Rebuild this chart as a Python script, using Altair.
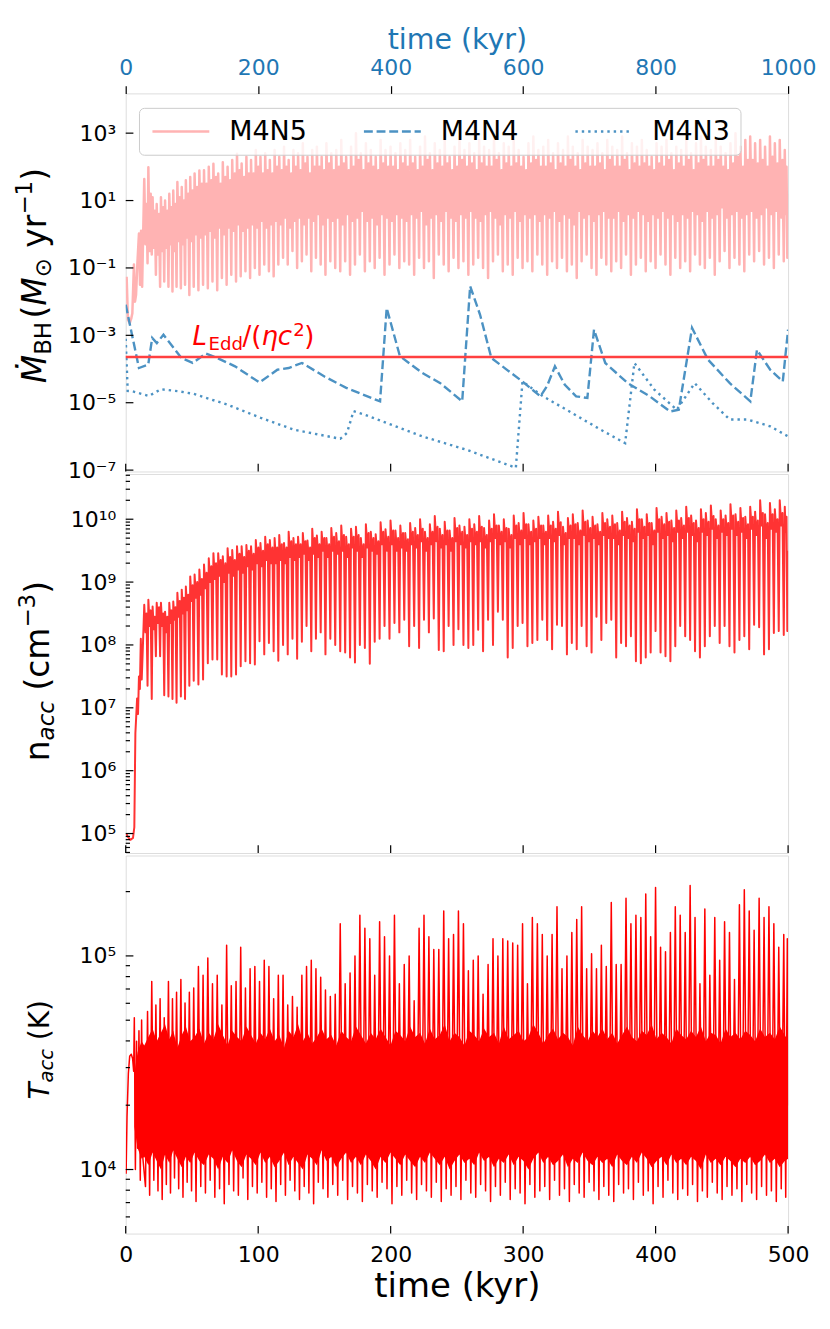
import altair as alt
import numpy as np
import pandas as pd

FONT = "DejaVu Sans"

# ---------------- data ----------------
# start times (kyr) of the accretion cycles of run M4N5
CYCLE_T = [14.0, 17.1, 20.3, 23.4, 26.6, 29.7, 32.9, 35.9, 39.0, 42.3, 45.4, 48.7,
           52.0, 55.6, 59.1, 62.7, 66.2, 69.8, 73.3, 76.9, 80.4, 84.0, 87.5, 91.1, 94.6, 98.2,
           101.7, 105.3, 108.8, 112.4, 115.9, 119.5, 123.0, 126.6, 130.1, 133.7, 137.2, 140.8, 144.3, 147.9,
           151.5, 155.2, 158.9, 162.7, 166.4, 170.1, 173.8, 177.5, 181.3, 185.0,
           188.7, 192.4, 196.1, 199.9, 203.6, 207.3, 211.0, 214.7, 218.5, 222.2,
           225.9, 229.6, 233.3, 237.1, 240.8, 244.5, 248.2, 251.9, 255.7, 259.4,
           263.1, 266.8, 270.5, 274.3, 278.0, 281.7, 285.4, 289.1, 292.9, 296.6,
           300.3, 304.0, 307.7, 311.5, 315.2, 318.9, 322.6, 326.3, 330.1, 333.8,
           337.5, 341.2, 344.9, 348.7, 352.4, 356.1, 359.8, 363.5, 367.3, 371.0,
           374.7, 378.4, 382.1, 385.9, 389.6, 393.3, 397.0, 400.7, 404.5, 408.2,
           411.9, 415.6, 419.3, 423.1, 426.8, 430.5, 434.2, 437.9, 441.7, 445.4,
           449.1, 452.8, 456.5, 460.3, 464.0, 467.7, 471.4, 475.1, 478.9, 482.6,
           486.3, 490.0, 493.7, 497.5]

# --- M4N5 accretion rate, log10(Msun/yr) ---
MDOT_EARLY_T = [0.7, 1.7, 3.0, 4.2, 5.0, 6.2, 7.0, 7.8, 8.8, 10.0, 10.8, 11.6, 12.4]
MDOT_EARLY_LOG = [-1.26, -2.54, -2.64, -2.5, -2.35, -0.9, -2.0, -1.8, -0.87, 0.02, -1.5, 0.1, -1.56]
MDOT_END = [500.0, 1.2]
MDOT_PK = [1.64, 1.99, 1.1, 0.9, 1.1, 1.0, 1.2, 1.3, 1.55, 1.4, 1.6, 1.7, 1.8, 1.89,
           1.9, 2.0, 2.09, 1.8, 2.14, 2.0, 2.2, 2.39, 2.1, 2.3, 2.2, 2.5, 2.3, 2.4, 2.2, 2.5,
           2.3, 2.6, 2.2, 2.5, 2.4, 2.7, 2.3, 2.5, 2.6, 2.3, 2.7, 2.4,
           2.5, 2.8, 2.3, 2.6, 3.0, 2.4, 2.7, 2.5, 2.3, 2.8, 2.5, 2.6, 2.4, 2.7,
           2.5, 2.8, 2.3, 2.6, 2.9, 2.4, 2.7, 2.5, 2.8, 2.3, 2.6, 2.9, 2.5, 2.7,
           2.4, 2.8, 2.6, 2.5, 2.9, 2.4, 2.7, 2.6, 2.8, 2.5, 2.3, 2.7, 2.9, 2.5,
           2.6, 2.8, 2.4, 2.7, 2.5, 2.9, 2.6, 2.4, 2.8, 2.6, 2.5, 2.7, 2.4, 2.8,
           2.6, 2.5, 2.9, 2.4, 2.7, 2.6, 2.8, 2.5, 2.3, 2.7, 2.6, 2.8, 2.4, 2.6,
           2.5, 2.8, 2.4, 2.7, 2.9, 2.6, 2.5, 2.8, 2.6, 2.4, 2.7, 3.0, 2.6, 2.8,
           2.9, 2.7, 2.8, 2.6, 2.9, 2.7, 2.8, 2.5]
MDOT_MD = [-0.3, -0.5, -0.4, -0.6, -0.5, -0.4, -0.3, -0.5, -0.2, -0.3, -0.1, -0.2, 0.0, -0.1,
           0.0, 0.1, -0.1, 0.2, 0.0, 0.2, 0.1, 0.3, 0.1, 0.2, 0.3, 0.2, 0.4, 0.2, 0.3, 0.4,
           0.3, 0.5, 0.2, 0.4, 0.5, 0.3, 0.5, 0.4, 0.6, 0.3, 0.5, 0.4,
           0.5, 0.3, 0.6, 0.4, 0.5, 0.7, 0.4, 0.5, 0.3, 0.6, 0.5, 0.4, 0.6, 0.5,
           0.4, 0.6, 0.5, 0.7, 0.3, 0.5, 0.6, 0.4, 0.7, 0.5, 0.4, 0.6, 0.5, 0.7,
           0.5, 0.4, 0.6, 0.7, 0.5, 0.3, 0.6, 0.5, 0.7, 0.4, 0.6, 0.5, 0.6, 0.4,
           0.6, 0.5, 0.7, 0.4, 0.6, 0.5, 0.3, 0.7, 0.5, 0.6, 0.4, 0.6, 0.7, 0.5,
           0.5, 0.7, 0.4, 0.6, 0.5, 0.7, 0.6, 0.4, 0.6, 0.5, 0.7, 0.5, 0.6, 0.4,
           0.6, 0.5, 0.7, 0.6, 0.4, 0.7, 0.5, 0.6, 0.8, 0.5, 0.6, 0.7, 0.5, 0.6,
           0.7, 0.5, 0.6, 0.8, 0.6, 0.7, 0.5, 0.6]
MDOT_PK2 = [0.9, 1.2, 0.7, 0.6, 0.8, 0.7, 0.8, 0.9, 1.1, 1.0, 1.2, 1.3, 1.4, 1.5,
            1.5, 1.6, 1.7, 1.5, 1.7, 1.6, 1.8, 1.9, 1.7, 1.8, 1.8, 2.0, 1.8, 1.9, 1.8, 2.0,
            1.9, 2.0, 1.8, 2.0, 1.9, 2.1, 1.8, 2.0, 2.0, 1.9, 2.1, 1.9,
            2.0, 2.1, 1.9, 2.0, 2.2, 1.9, 2.1, 2.0, 1.9, 2.1, 2.0, 2.0, 1.9, 2.1,
            2.0, 2.1, 1.9, 2.0, 2.2, 1.9, 2.1, 2.0, 2.1, 1.9, 2.0, 2.2, 2.0, 2.1,
            1.9, 2.1, 2.0, 2.0, 2.2, 1.9, 2.1, 2.0, 2.1, 2.0, 1.9, 2.1, 2.2, 2.0,
            2.0, 2.1, 1.9, 2.1, 2.0, 2.2, 2.0, 1.9, 2.1, 2.0, 2.0, 2.1, 1.9, 2.2,
            2.0, 2.0, 2.2, 1.9, 2.1, 2.0, 2.1, 2.0, 1.9, 2.1, 2.0, 2.2, 1.9, 2.1,
            2.0, 2.2, 1.9, 2.1, 2.2, 2.0, 2.0, 2.2, 2.0, 1.9, 2.1, 2.3, 2.0, 2.2,
            2.2, 2.1, 2.2, 2.0, 2.3, 2.1, 2.2, 2.0]
MDOT_LOW = [-0.86, -0.6, -1.2, -1.56, -1.4, -1.56, -1.7, -1.56, -1.6, -1.5, -1.8, -1.56, -1.66, -1.5,
            -1.6, -1.4, -1.66, -1.3, -1.5, -1.2, -1.4, -1.25, -1.1, -1.3, -1.0, -1.2, -0.9, -1.1, -1.25, -0.9,
            -0.7, -0.9, -0.5, -1.0, -0.8, -0.6, -1.1, -0.7, -0.9, -1.2, -0.8, -1.0,
            -1.1, -0.8, -1.2, -0.9, -0.6, -1.1, -0.8, -1.0, -0.7, -1.2, -0.9, -0.6, -1.0, -0.8,
            -0.9, -1.2, -0.7, -1.0, -0.8, -1.3, -0.6, -0.9, -1.1, -0.7, -1.0, -0.8, -1.2, -0.9,
            -0.7, -1.0, -1.3, -0.8, -0.6, -1.1, -0.9, -1.2, -0.7, -1.0, -0.8, -1.1, -0.6, -0.9,
            -1.2, -0.8, -1.0, -0.7, -1.1, -0.9, -1.3, -0.8, -0.6, -1.0, -1.2, -0.7, -0.9, -1.1,
            -0.8, -1.0, -0.6, -1.2, -0.9, -0.7, -1.1, -0.8, -1.0, -0.6, -0.9, -1.2, -0.7, -1.0,
            -0.8, -1.1, -0.6, -0.9, -1.0, -0.7, -1.2, -0.8, -0.5, -1.0, -0.7, -0.9, -1.1, -0.6,
            -0.8, -0.5, -0.9, -0.7, -1.0, -0.6, -0.8, -0.7]

# --- M4N4 / M4N3 accretion rates (time on the top axis, kyr) ---
M4N4_T = [0, 20, 34, 40, 47, 57, 84, 101, 121, 138, 165, 202, 229, 246, 266, 300, 333, 384, 394, 414,
          448, 475, 508, 520, 535, 552, 582, 599, 626, 636, 648, 663, 680, 697, 707, 724, 758, 791, 822, 835,
          855, 879, 912, 943, 953, 973, 992, 1000]
M4N4_LOG = [-2.09, -3.97, -3.87, -3.08, -3.23, -2.98, -3.67, -3.82, -3.54, -3.67,
            -3.92, -4.40, -4.02, -3.97, -3.82, -4.22, -4.56, -4.96, -2.19, -3.62,
            -4.12, -4.42, -4.96, -1.54, -2.39, -3.67, -4.12, -4.37, -4.81, -4.51,
            -3.92, -4.47, -4.81, -4.86, -2.83, -3.82, -4.42, -4.81, -5.26, -5.21,
            -2.78, -3.72, -4.42, -4.96, -3.43, -4.02, -4.37, -2.83]
M4N3_T = [0, 3, 10, 35, 53, 80, 103, 154, 204, 254, 324, 334, 344, 360, 394, 448, 515, 589, 599, 630,
          670, 717, 754, 768, 798, 832, 859, 886, 912, 939, 973, 1000]
M4N3_LOG = [-3.1, -4.65, -4.66, -4.80, -4.60, -4.66, -4.74, -5.06, -5.45, -5.80, -6.07, -5.90, -5.25, -5.35,
            -5.60, -6.00, -6.40, -6.93, -4.37, -4.81, -5.26, -5.80, -6.20, -3.82, -4.61, -5.21, -4.42, -5.01,
            -5.50, -5.50, -5.70, -6.0]
EDD_RATE = 2.26e-4

# --- accretion density, log10(cm^-3) ---
NACC_EARLY_T = [0.5, 1.5, 3.5, 5.5, 6.5, 7.3, 7.9, 8.6, 9.3, 10.0, 10.7, 11.4, 12.1, 13.0]
NACC_EARLY_LOG = [5.0, 4.95, 4.9, 4.93, 5.1, 6.6, 6.85, 7.15, 6.9, 7.5, 7.3, 8.1, 7.45, 8.0]
NACC_END = [500.0, 9.5]
NACC_PK = [8.64, 8.72, 8.61, 8.67, 8.67, 8.53, 8.67, 8.69, 8.83, 8.88, 8.93, 9.09, 9.12, 9.20,
           9.28, 9.38, 9.46, 9.46, 9.41, 9.54, 9.51, 9.57, 9.57, 9.59, 9.57, 9.67, 9.62, 9.72, 9.67, 9.70,
           9.75, 9.62, 9.80, 9.70, 9.72, 9.78, 9.66, 9.85, 9.74, 9.80, 9.70, 9.86,
           9.78, 9.90, 9.72, 9.85, 9.88, 9.70, 9.92, 9.80, 9.76, 9.95, 9.84, 9.98, 9.82, 9.90,
           9.78, 9.94, 9.86, 10.0, 9.80, 9.92, 10.05, 9.85, 9.96, 9.82, 10.02, 9.90, 9.88, 10.0,
           9.92, 10.05, 9.86, 9.98, 10.08, 9.90, 10.0, 9.85, 10.06, 9.94, 10.1, 9.92, 9.98, 10.04,
           9.90, 10.06, 9.96, 10.12, 9.88, 10.02, 10.08, 9.94, 10.14, 9.98, 10.04, 9.92, 10.1, 10.0,
           10.06, 9.94, 10.12, 10.02, 9.96, 10.16, 10.0, 10.08, 9.94, 10.18, 10.04, 10.1, 9.98, 10.14,
           10.02, 10.2, 10.06, 9.98, 10.16, 10.1, 10.22, 10.0, 10.14, 10.06, 10.24, 10.08, 10.18, 10.04,
           10.2, 10.12, 10.3, 10.08, 10.26, 10.16, 10.3, 10.2]
NACC_MD = [8.2, 8.3, 8.25, 8.35, 8.3, 8.2, 8.35, 8.4, 8.45, 8.5, 8.55, 8.7, 8.75, 8.8,
           8.9, 9.0, 9.05, 9.1, 9.0, 9.15, 9.1, 9.2, 9.15, 9.25, 9.2, 9.3, 9.25, 9.35, 9.3, 9.3,
           9.35, 9.3, 9.4, 9.35, 9.4, 9.45, 9.35, 9.45, 9.4, 9.5, 9.4, 9.5,
           9.45, 9.5, 9.4, 9.55, 9.5, 9.4, 9.55, 9.5, 9.45, 9.6, 9.5, 9.6, 9.5, 9.55,
           9.5, 9.6, 9.55, 9.65, 9.5, 9.6, 9.65, 9.55, 9.6, 9.5, 9.65, 9.6, 9.55, 9.65,
           9.6, 9.65, 9.55, 9.65, 9.7, 9.6, 9.65, 9.55, 9.7, 9.6, 9.7, 9.6, 9.65, 9.7,
           9.6, 9.7, 9.65, 9.75, 9.6, 9.7, 9.7, 9.6, 9.75, 9.65, 9.7, 9.6, 9.75, 9.7,
           9.7, 9.6, 9.75, 9.7, 9.65, 9.8, 9.7, 9.75, 9.6, 9.8, 9.7, 9.75, 9.65, 9.8,
           9.7, 9.8, 9.75, 9.65, 9.8, 9.75, 9.85, 9.7, 9.8, 9.75, 9.85, 9.75, 9.8, 9.7,
           9.85, 9.75, 9.9, 9.7, 9.85, 9.8, 9.9, 9.8]
NACC_PK2 = [8.5, 8.55, 8.45, 8.6, 8.5, 8.45, 8.55, 8.6, 8.7, 8.75, 8.8, 8.95, 9.0, 9.05,
            9.15, 9.25, 9.3, 9.35, 9.3, 9.4, 9.35, 9.45, 9.4, 9.5, 9.45, 9.55, 9.5, 9.6, 9.55, 9.55,
            9.6, 9.55, 9.65, 9.6, 9.6, 9.65, 9.55, 9.7, 9.6, 9.7, 9.6, 9.72,
            9.65, 9.75, 9.6, 9.72, 9.75, 9.6, 9.78, 9.7, 9.65, 9.8, 9.72, 9.82, 9.7, 9.78,
            9.68, 9.8, 9.75, 9.85, 9.7, 9.8, 9.88, 9.75, 9.82, 9.7, 9.86, 9.8, 9.75, 9.85,
            9.8, 9.88, 9.75, 9.85, 9.9, 9.8, 9.86, 9.75, 9.9, 9.82, 9.92, 9.8, 9.85, 9.9,
            9.8, 9.9, 9.85, 9.95, 9.78, 9.9, 9.92, 9.82, 9.96, 9.86, 9.9, 9.8, 9.94, 9.88,
            9.92, 9.82, 9.96, 9.9, 9.85, 10.0, 9.88, 9.94, 9.82, 10.0, 9.92, 9.96, 9.86, 9.98,
            9.9, 10.02, 9.94, 9.86, 10.0, 9.96, 10.05, 9.9, 10.0, 9.94, 10.06, 9.96, 10.02, 9.92,
            10.04, 9.98, 10.1, 9.94, 10.08, 10.0, 10.1, 10.04]
NACC_DIP = [7.35, 7.14, 7.82, 7.82, 7.2, 7.18, 7.14, 7.08, 7.18, 7.14, 7.35, 7.43, 7.37, 7.45,
            7.71, 7.77, 7.77, 7.53, 7.5, 7.5, 7.53, 7.66, 7.74, 7.71, 7.69, 8.06, 7.85, 8.03, 7.9, 7.75,
            8.0, 7.85, 8.1, 7.78, 8.05, 8.3, 7.9, 8.1, 8.2, 7.85, 8.1, 8.0,
            7.9, 7.88, 7.8, 7.72, 8.0, 7.95, 7.7, 8.05, 8.1, 8.3, 8.1, 8.35, 8.2, 8.4,
            7.98, 8.3, 7.95, 8.4, 8.2, 8.42, 7.92, 7.9, 8.3, 8.0, 8.25, 8.0, 7.95, 8.0,
            8.24, 7.9, 8.4, 8.0, 8.53, 8.4, 7.8, 7.95, 8.3, 8.35, 7.98, 8.03, 8.08, 8.4,
            8.08, 7.93, 8.32, 8.3, 7.85, 8.03, 7.93, 8.3, 7.98, 7.88, 8.45, 8.08, 8.35, 8.4,
            7.8, 8.03, 7.98, 8.14, 7.74, 7.71, 7.8, 7.88, 8.22, 7.88, 7.82, 7.74, 7.98, 8.3,
            8.14, 8.08, 7.9, 7.8, 7.98, 8.14, 8.3, 8.03, 8.3, 7.98, 7.88, 8.08, 8.14, 7.93,
            8.32, 8.28, 7.85, 7.93, 8.19, 8.22, 8.16, 8.22]

# --- accretion temperature, log10(K) ---
TACC_EARLY_T = [0.3, 1.0, 2.0, 3.0, 4.2, 5.2, 6.0, 6.5, 7.3, 8.2, 9.0, 10.0, 11.0, 12.0, 13.0]
TACC_EARLY_LOG = [3.98, 4.25, 4.45, 4.53, 4.54, 4.52, 4.46, 4.71, 4.0, 4.6, 4.1, 4.65, 3.95, 4.7, 4.05]
TACC_END = [500.0, 4.3]
TACC_SPIKE = [4.74, 4.88, 4.77, 4.80, 4.71, 4.88, 4.80, 4.83, 4.89, 4.78, 4.83, 4.85, 4.95, 4.91,
              4.99, 4.87, 4.91, 4.77, 5.05, 4.86, 4.88, 5.04, 4.85, 4.94, 4.95, 4.88, 4.98, 4.95,
              4.80, 4.91, 4.91, 4.77, 4.81, 4.76, 4.91, 4.95, 4.98, 4.94, 4.90, 4.84, 4.81, 4.82,
              5.15, 4.87, 4.92, 5.00, 5.19, 5.13, 5.08, 4.91, 5.16, 5.09, 5.00, 5.19, 4.87, 4.96,
              5.00, 4.79, 5.13, 5.19, 5.09, 5.03, 5.03, 5.21, 5.08,
              5.10, 5.21, 5.15, 4.93, 4.98, 5.00, 4.82, 4.96, 5.08, 5.00, 5.08, 5.07, 5.06, 5.05,
              5.15, 4.87, 5.18, 5.15, 5.10, 5.00, 5.10, 5.23, 4.94, 5.00, 5.11, 5.17, 5.23, 4.94,
              5.01, 4.94, 5.05, 4.95, 5.25, 4.96, 4.96, 5.27, 5.15, 5.19, 5.18, 5.29, 5.09, 5.32,
              5.04, 5.02, 5.11, 5.23, 5.19, 5.11, 5.33, 5.18, 4.87, 5.22, 4.91, 5.18, 4.98, 5.16,
              5.11, 4.89, 5.24, 5.31, 5.21, 5.12, 5.27, 5.18, 5.23, 5.15, 5.04, 5.10, 5.08]
TACC_LOW = [3.92, 3.88, 3.95, 3.90, 3.86, 3.93, 3.89, 3.96, 3.91, 3.87, 3.94, 3.90, 3.85, 3.92,
            3.89, 3.95, 3.87, 3.91, 3.84, 3.93, 3.90, 3.88, 3.96, 3.86, 3.92, 3.89, 3.94, 3.87,
            3.91, 3.85, 3.93, 3.88, 3.95, 3.90, 3.86, 3.92, 3.89, 3.84, 3.94, 3.91, 3.87, 3.93,
            3.88, 3.95, 3.86, 3.92, 3.89, 3.85, 3.93, 3.90, 3.87, 3.94, 3.91, 3.84, 3.92, 3.88,
            3.95, 3.89, 3.86, 3.93, 3.90, 3.87, 3.94, 3.85, 3.91, 3.88, 3.92, 3.86, 3.95, 3.89,
            3.87, 3.93, 3.90, 3.85, 3.92, 3.88, 3.94, 3.86, 3.91, 3.89, 3.84, 3.93, 3.87, 3.90,
            3.92, 3.86, 3.95, 3.88, 3.91, 3.85, 3.93, 3.89, 3.87, 3.94, 3.90, 3.86, 3.92, 3.88,
            3.85, 3.93, 3.89, 3.91, 3.86, 3.94, 3.88, 3.90, 3.84, 3.92, 3.87, 3.95, 3.89, 3.86,
            3.91, 3.88, 3.93, 3.85, 3.90, 3.87, 3.94, 3.89, 3.86, 3.92, 3.88, 3.91, 3.85, 3.93,
            3.89, 3.86, 3.92, 3.88, 3.90, 3.85, 3.91, 3.87]
TBAND_EARLY_T = [6.5, 9.0, 12.0]
TBAND_EARLY_LO = [4.2, 4.1, 4.05]
TBAND_EARLY_HI = [4.45, 4.55, 4.6]
TBAND_END = [500.0, 4.05, 4.6]
TBAND_HI = [4.58, 4.62, 4.66, 4.60, 4.64, 4.68, 4.61, 4.65, 4.57, 4.63, 4.67, 4.60, 4.62, 4.66,
            4.59, 4.64, 4.61, 4.68, 4.63, 4.58, 4.65, 4.62, 4.60, 4.67, 4.63, 4.59, 4.64, 4.61,
            4.66, 4.60, 4.63, 4.57, 4.65, 4.62, 4.68, 4.60, 4.64, 4.59, 4.62, 4.66, 4.61, 4.63,
            4.58, 4.65, 4.62, 4.60, 4.67, 4.63, 4.59, 4.64, 4.61, 4.66, 4.62, 4.58, 4.65, 4.63,
            4.60, 4.67, 4.62, 4.64, 4.59, 4.66, 4.61, 4.63, 4.68, 4.60, 4.64, 4.62, 4.58, 4.65,
            4.63, 4.60, 4.66, 4.62, 4.64, 4.59, 4.67, 4.61, 4.63, 4.65, 4.60, 4.62, 4.68, 4.64,
            4.59, 4.63, 4.66, 4.61, 4.64, 4.62, 4.58, 4.67, 4.63, 4.60, 4.65, 4.62, 4.66, 4.61,
            4.64, 4.59, 4.63, 4.67, 4.62, 4.60, 4.65, 4.63, 4.68, 4.61, 4.64, 4.62, 4.59, 4.66,
            4.63, 4.61, 4.65, 4.62, 4.67, 4.60, 4.64, 4.63, 4.59, 4.66, 4.62, 4.64, 4.61, 4.65,
            4.63, 4.60, 4.66, 4.62, 4.64, 4.61, 4.67, 4.63]
TBAND_LO = [4.06, 4.02, 4.08, 4.04, 4.00, 4.07, 4.03, 4.09, 4.05, 4.01, 4.06, 4.03, 4.08, 4.04,
            4.02, 4.07, 4.05, 4.00, 4.06, 4.03, 4.09, 4.04, 4.01, 4.07, 4.05, 4.02, 4.08, 4.03,
            4.06, 4.01, 4.04, 4.08, 4.02, 4.06, 4.03, 4.00, 4.07, 4.05, 4.02, 4.09, 4.04, 4.06,
            4.01, 4.05, 4.08, 4.03, 4.06, 4.02, 4.07, 4.04, 4.00, 4.06, 4.03, 4.08, 4.05, 4.02,
            4.07, 4.04, 4.01, 4.06, 4.03, 4.08, 4.05, 4.02, 4.06, 4.00, 4.04, 4.07, 4.03, 4.05,
            4.02, 4.08, 4.04, 4.06, 4.01, 4.05, 4.03, 4.07, 4.02, 4.06, 4.04, 4.00, 4.05, 4.08,
            4.03, 4.06, 4.02, 4.04, 4.07, 4.01, 4.05, 4.03, 4.08, 4.04, 4.02, 4.06, 4.03, 4.05,
            4.01, 4.07, 4.04, 4.02, 4.06, 4.03, 4.08, 4.05, 4.01, 4.04, 4.06, 4.02, 4.07, 4.03,
            4.05, 4.02, 4.06, 4.04, 4.00, 4.07, 4.03, 4.05, 4.02, 4.06, 4.04, 4.01, 4.05, 4.03,
            4.06, 4.02, 4.04, 4.07, 4.03, 4.05, 4.01, 4.04]

SERIES = ["M4N5", "M4N4", "M4N3"]
X_TICKS = [0, 100, 200, 300, 400, 500]
X_TICKS_TOP = [0, 200, 400, 600, 800, 1000]


# ---------------- build tables ----------------
def cycles(lists, fracs):
    n = min([len(CYCLE_T)] + [len(l) for l in lists])
    ts, vs = [], []
    for i in range(n):
        p = CYCLE_T[i + 1] - CYCLE_T[i] if i + 1 < len(CYCLE_T) else 2.4
        for f, l in zip(fracs, lists):
            ts.append(CYCLE_T[i] + f * p)
            vs.append(l[i])
    return ts, vs


ct, cv = cycles([MDOT_PK, MDOT_MD, MDOT_PK2, MDOT_LOW], (0.0, 0.3, 0.55, 0.8))
df_m5 = pd.DataFrame({"t": MDOT_EARLY_T + ct + [MDOT_END[0]],
                      "v": np.power(10.0, MDOT_EARLY_LOG + cv + [MDOT_END[1]]), "series": "M4N5"})

df_blue = pd.concat([
    pd.DataFrame({"tt": M4N4_T, "v": np.power(10.0, M4N4_LOG), "series": "M4N4"}),
    pd.DataFrame({"tt": M4N3_T, "v": np.power(10.0, M4N3_LOG), "series": "M4N3"}),
], ignore_index=True)

ct, cv = cycles([NACC_PK, NACC_MD, NACC_PK2, NACC_DIP], (0.0, 0.3, 0.55, 0.8))
df_n = pd.DataFrame({"t": NACC_EARLY_T + ct + [NACC_END[0]],
                     "v": np.power(10.0, NACC_EARLY_LOG + cv + [NACC_END[1]])})

ct, cv = cycles([TACC_LOW, TACC_SPIKE], (0.3, 0.8))
df_T = pd.DataFrame({"t": TACC_EARLY_T + ct + [TACC_END[0]],
                     "v": np.power(10.0, TACC_EARLY_LOG + cv + [TACC_END[1]])})
nb = min(len(CYCLE_T), len(TBAND_LO), len(TBAND_HI))
df_band = pd.DataFrame({
    "t": TBAND_EARLY_T + CYCLE_T[:nb] + [TBAND_END[0]],
    "lo": np.power(10.0, TBAND_EARLY_LO + TBAND_LO[:nb] + [TBAND_END[1]]),
    "hi": np.power(10.0, TBAND_EARLY_HI + TBAND_HI[:nb] + [TBAND_END[2]]),
})

# ---------------- styling helpers ----------------
W = 664
H1, H2, H3 = 379, 380, 379
TICK_MAJ, TICK_MIN = 7.7, 4.3
BLUE = "#4c92c3"
PINK = "#ffb3b3"
TOPBLUE = "#1f77b4"
ONE = pd.DataFrame({"k": [0]})

SUP = str.maketrans("0123456789-", "⁰¹²³⁴⁵⁶⁷⁸⁹⁻")


def sup_label(e):
    return "10" + str(e).translate(SUP)


def label_expr(exps):
    expr = "''"
    for e in reversed(exps):
        expr = f"abs(log(datum.value)/LN10 - ({e})) < 0.01 ? '{sup_label(e)}' : " + expr
    return expr


def y_axis(exps):
    return alt.Axis(values=[10.0 ** e for e in exps], labelExpr=label_expr(exps), ticks=False,
                    domain=False, grid=False, labelFontSize=22, labelPadding=10, title=None,
                    labelColor="black", labelFont=FONT, labelOverlap=False, labelFlush=False)


XSC = alt.Scale(domain=[0, 500], nice=False, zero=False)


def xb(axis):
    return alt.X("t:Q", scale=XSC, axis=axis)


ADV = {"Ṁ": 0.863, "M": 0.863, "B": 0.686, "H": 0.752, "(": 0.390, ")": 0.390, " ": 0.318,
       "y": 0.592, "r": 0.411, "−": 0.838, "1": 0.636, "3": 0.636, "n": 0.634, "a": 0.613,
       "c": 0.550, "m": 0.974, "T": 0.611, "K": 0.656, "⊙": 0.838}


def rot_title(pieces, start_y, base_x):
    layers = []
    y = start_y
    for txt, size, italic, shift, gap in pieces:
        y -= gap * size
        layers.append(alt.Chart(ONE).mark_text(
            text=txt, fontSize=size, font=FONT, fontStyle="italic" if italic else "normal",
            angle=270, align="left", baseline="alphabetic", color="black"
        ).encode(x=alt.value(base_x + shift), y=alt.value(y)))
        y -= sum(ADV.get(c, 0.6) for c in txt) * size
    return layers


def left_ticks(values, ysc, yax, length):
    return alt.Chart(pd.DataFrame({"v": values})).mark_rule(color="black", strokeWidth=1.2).encode(
        y=alt.Y("v:Q", scale=ysc, axis=yax), x=alt.value(0), x2=alt.value(length))


def bottom_ticks(h, xax):
    return alt.Chart(pd.DataFrame({"t": X_TICKS})).mark_rule(color="black", strokeWidth=1.2).encode(
        x=xb(xax), y=alt.value(h), y2=alt.value(h - TICK_MAJ))


def minors(lo_e, hi_e, vmin, vmax):
    out = []
    for d in range(lo_e, hi_e + 1):
        for k in range(2, 10):
            v = k * 10.0 ** d
            if vmin < v < vmax:
                out.append(v)
    return out


# ---------------- panel 1 ----------------
Y1SC = alt.Scale(type="log", domain=[10 ** -7.04, 10 ** 4.18], nice=False)
Y1AX = y_axis([-7, -5, -3, -1, 1, 3])
cscale = alt.Scale(domain=SERIES, range=[PINK, BLUE, BLUE])
dscale = alt.Scale(domain=SERIES, range=[[1, 0], [8.9, 3.8], [2.4, 4.0]])
LEG = alt.Legend(title=None, orient="none", legendX=13.3, legendY=14.5, direction="horizontal",
                 columns=3, symbolType="M-2.85,0H2.85", symbolSize=400, symbolStrokeWidth=2.5,
                 symbolOffset=18.5, labelFontSize=27, labelFont=FONT, labelColor="black",
                 labelOffset=35, columnPadding=51, padding=10, fillColor="rgba(255,255,255,0.8)",
                 strokeColor="#cccccc", cornerRadius=5, labelLimit=0)

pink = alt.Chart(df_m5).mark_line(strokeWidth=2.5, clip=True, strokeJoin="round").encode(
    x=xb(None), y=alt.Y("v:Q", scale=Y1SC, axis=Y1AX),
    color=alt.Color("series:N", scale=cscale, legend=LEG),
    strokeDash=alt.StrokeDash("series:N", scale=dscale, legend=LEG))

TOPAX = alt.Axis(orient="top", values=X_TICKS_TOP, format="d", tickSize=7.7, tickColor="black",
                 tickWidth=1.2, domain=False, grid=False, labelColor=TOPBLUE, titleColor=TOPBLUE,
                 labelFontSize=22, titleFontSize=28.5, labelFont=FONT, titleFont=FONT,
                 titleFontWeight="normal", title="time (kyr)", labelPadding=6, titlePadding=2,
                 labelFlush=False, labelOverlap=False)
blue = alt.Chart(df_blue).mark_line(strokeWidth=2.4, clip=True).encode(
    x=alt.X("tt:Q", scale=alt.Scale(domain=[0, 1000], nice=False, zero=False), axis=TOPAX),
    y=alt.Y("v:Q", scale=Y1SC, axis=Y1AX),
    color=alt.Color("series:N", scale=cscale, legend=LEG),
    strokeDash=alt.StrokeDash("series:N", scale=dscale, legend=LEG))

edd = alt.Chart(pd.DataFrame({"v": [EDD_RATE]})).mark_rule(color="#ff4040", strokeWidth=2.5).encode(
    y=alt.Y("v:Q", scale=Y1SC, axis=Y1AX))

df_lab = pd.DataFrame({"t": [50.5], "v": [10 ** -3.28]})
lab_pieces = [("L", 26, True, 0, 0), ("Edd", 18.2, False, 16, 5), ("/(", 26, False, 50, 0),
              ("ηc", 26, True, 69, 0), ("2", 18.2, False, 101, -9), (")", 26, False, 112, 0)]
lab_layers = [alt.Chart(df_lab).mark_text(
    text=txt, fontSize=sz, font=FONT, fontStyle="italic" if it else "normal", color="#ff0000",
    align="left", baseline="alphabetic", dx=dx, dy=dy).encode(
    x=xb(None), y=alt.Y("v:Q", scale=Y1SC, axis=Y1AX)) for txt, sz, it, dx, dy in lab_pieces]

title1 = rot_title([("Ṁ", 33, True, 0, 0), ("BH", 23, False, 5, 0), ("(", 33, False, 0, 0.1),
                    ("M", 33, True, 0, 0), ("⊙", 23, False, 5, 0), ("yr", 33, False, 0, 0.318),
                    ("−1", 23, False, -14, 0), (")", 33, False, 0, 0)],
                   start_y=290.6, base_x=-79.7)

p1 = alt.layer(pink, blue, edd, *lab_layers,
               left_ticks([10.0 ** e for e in (-7, -5, -3, -1, 1, 3)], Y1SC, Y1AX, TICK_MAJ),
               bottom_ticks(H1, None), *title1).properties(width=W, height=H1).resolve_scale(x="independent")

# ---------------- panel 2 ----------------
Y2LO, Y2HI = 10 ** 4.69, 10 ** 10.72
Y2SC = alt.Scale(type="log", domain=[Y2LO, Y2HI], nice=False)
Y2AX = y_axis([5, 6, 7, 8, 9, 10])
nline = alt.Chart(df_n).mark_line(color="#ff3333", strokeWidth=2.0, clip=True, strokeJoin="round").encode(
    x=xb(None), y=alt.Y("v:Q", scale=Y2SC, axis=Y2AX))
title2 = rot_title([("n", 33, False, 0, 0), ("acc", 23, True, 5, 0), ("(", 33, False, 0, 0.318),
                    ("cm", 33, False, 0, 0), ("−3", 23, False, -14, 0), (")", 33, False, 0, 0)],
                   start_y=288.0, base_x=-76.7)
p2 = alt.layer(nline,
               left_ticks([10.0 ** e for e in range(5, 11)], Y2SC, Y2AX, TICK_MAJ),
               left_ticks(minors(4, 10, Y2LO, Y2HI), Y2SC, Y2AX, TICK_MIN),
               bottom_ticks(H2, None), *title2).properties(width=W, height=H2)

# ---------------- panel 3 ----------------
Y3LO, Y3HI = 10 ** 3.70, 10 ** 5.47
Y3SC = alt.Scale(type="log", domain=[Y3LO, Y3HI], nice=False)
Y3AX = y_axis([4, 5])
AX3 = alt.Axis(values=X_TICKS, format="d", ticks=False, domain=False, grid=False, labelFontSize=22,
               labelFont=FONT, labelColor="black", labelPadding=11, title="time (kyr)",
               titleFontSize=34, titleFont=FONT, titleFontWeight="normal", titleColor="black",
               titlePadding=4, labelFlush=False, labelOverlap=False)
band = alt.Chart(df_band).mark_area(color="#ff0000", clip=True, opacity=1).encode(
    x=xb(AX3), y=alt.Y("lo:Q", scale=Y3SC, axis=Y3AX), y2="hi:Q")
tline = alt.Chart(df_T).mark_line(color="#ff0000", strokeWidth=1.5, clip=True, strokeJoin="round").encode(
    x=xb(AX3), y=alt.Y("v:Q", scale=Y3SC, axis=Y3AX))
title3 = rot_title([("T", 28, True, 0, 0), ("acc", 19.6, True, 4, 0), ("(K)", 28, False, 0, 0.318)],
                   start_y=244.7, base_x=-76.7)
p3 = alt.layer(band, tline,
               left_ticks([1e4, 1e5], Y3SC, Y3AX, TICK_MAJ),
               left_ticks(minors(3, 5, Y3LO, Y3HI), Y3SC, Y3AX, TICK_MIN),
               bottom_ticks(H3, AX3), *title3).properties(width=W, height=H3)

chart = alt.vconcat(p1, p2, p3, spacing=2.5, bounds="flush").properties(
    padding={"left": 5, "top": 15, "right": 5, "bottom": 5}, background="white"
).configure_view(stroke="black", strokeWidth=1.5).configure(font=FONT)

chart.save("out.html", embed_options={"renderer": "svg", "actions": False})
